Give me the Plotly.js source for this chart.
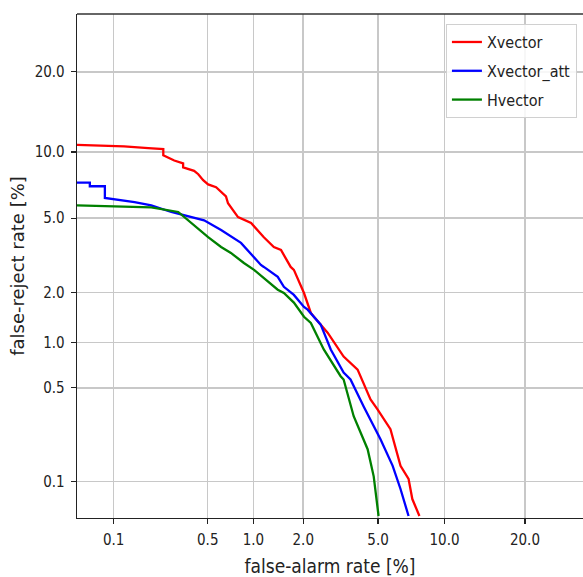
<!DOCTYPE html>
<html>
<head>
<meta charset="utf-8">
<script src="https://cdn.plot.ly/plotly-3.0.1.min.js"></script>
<style>html,body{margin:0;padding:0;background:#fff;}#chart{width:583px;height:577px;}</style>
</head>
<body>
<div id="chart"></div>
<script>
// Values in percent
const xvecFA = [0.05, 0.07, 0.121, 0.186, 0.241, 0.241, 0.262, 0.29, 0.336, 0.336, 0.402, 0.43, 0.465, 0.503, 0.57, 0.616, 0.664, 0.685, 0.797, 0.967, 1.163, 1.34, 1.48, 1.69, 1.765, 2.02, 2.21, 2.30, 2.74, 3.34, 3.95, 4.59, 4.97, 5.74, 6.4, 6.97, 7.25, 7.8];
const xvecFR = [10.7, 10.64, 10.55, 10.37, 10.28, 9.68, 9.49, 9.2, 8.95, 8.6, 8.3, 8.02, 7.54, 7.22, 7.01, 6.65, 6.36, 5.9, 5.06, 4.73, 4.01, 3.57, 3.44, 2.79, 2.69, 1.99, 1.52, 1.44, 1.15, 0.81, 0.664, 0.415, 0.353, 0.253, 0.133, 0.105, 0.072, 0.052];

const xattFA = [0.05, 0.064, 0.064, 0.085, 0.085, 0.146, 0.196, 0.276, 0.472, 0.616, 0.833, 1.01, 1.115, 1.163, 1.415, 1.54, 1.765, 2.02, 2.12, 2.51, 2.85, 3.34, 3.63, 4.24, 5.14, 5.88, 6.4, 6.97];
const xattFR = [7.36, 7.36, 7.08, 7.08, 6.25, 5.98, 5.77, 5.36, 4.88, 4.36, 3.75, 3.16, 2.86, 2.79, 2.46, 2.16, 1.94, 1.65, 1.59, 1.29, 0.90, 0.635, 0.57, 0.37, 0.213, 0.133, 0.087, 0.052];

const hvecFA = [0.05, 0.196, 0.31, 0.365, 0.503, 0.616, 0.716, 0.87, 1.01, 1.415, 1.54, 1.765, 2.02, 2.21, 2.61, 3.22, 3.34, 3.77, 4.44, 4.76, 4.9, 5.03];
const hvecFR = [5.77, 5.64, 5.36, 4.88, 4.01, 3.57, 3.32, 2.93, 2.69, 2.08, 1.99, 1.75, 1.44, 1.32, 0.90, 0.60, 0.57, 0.315, 0.179, 0.11, 0.07, 0.052];

const seriesNames = ["Xvector", "Xvector_att", "Hvector"];
const seriesColors = ["#ff0000", "#0000ff", "#008000"];

const tickVals = [0.1, 0.5, 1.0, 2.0, 5.0, 10.0, 20.0];
const tickText = ["0.1", "0.5", "1.0", "2.0", "5.0", "10.0", "20.0"];
const axisLimits = [0.05, 30];

// inverse normal CDF (Acklam)
function probit(p) {
  const a = [-3.969683028665376e+01, 2.209460984245205e+02, -2.759285104469687e+02, 1.383577518672690e+02, -3.066479806614716e+01, 2.506628277459239e+00];
  const b = [-5.447609879822406e+01, 1.615858368580409e+02, -1.556989798598866e+02, 6.680131188771972e+01, -1.328068155288572e+01];
  const c = [-7.784894002430293e-03, -3.223964580411365e-01, -2.400758277161838e+00, -2.549732539343734e+00, 4.374664141464968e+00, 2.938163982698783e+00];
  const d = [7.784695709041462e-03, 3.224671290700398e-01, 2.445134137142996e+00, 3.754408661907416e+00];
  const pl = 0.02425, ph = 1 - pl;
  let q, r;
  if (p < pl) {
    q = Math.sqrt(-2 * Math.log(p));
    return (((((c[0]*q+c[1])*q+c[2])*q+c[3])*q+c[4])*q+c[5]) / ((((d[0]*q+d[1])*q+d[2])*q+d[3])*q+1);
  } else if (p <= ph) {
    q = p - 0.5; r = q*q;
    return (((((a[0]*r+a[1])*r+a[2])*r+a[3])*r+a[4])*r+a[5])*q / (((((b[0]*r+b[1])*r+b[2])*r+b[3])*r+b[4])*r+1);
  } else {
    q = Math.sqrt(-2 * Math.log(1 - p));
    return -(((((c[0]*q+c[1])*q+c[2])*q+c[3])*q+c[4])*q+c[5]) / ((((d[0]*q+d[1])*q+d[2])*q+d[3])*q+1);
  }
}
const pr = v => probit(v / 100);

const xs = [xvecFA, xattFA, hvecFA];
const ys = [xvecFR, xattFR, hvecFR];
const traces = xs.map((x, i) => ({
  x: x.map(pr), y: ys[i].map(pr), type: 'scatter', mode: 'lines',
  name: seriesNames[i], legendgroup: 'g' + i,
  line: {color: seriesColors[i], width: 2.3},
  hoverinfo: 'skip'
}));

const cond = 'DejaVu Sans Condensed, DejaVu Sans, sans-serif';
const tickFont = {family: cond, size: 15, color: '#222'};
const axisBase = {
  range: axisLimits.map(pr), tickmode: 'array', tickvals: tickVals.map(pr), ticktext: tickText,
  showgrid: true, gridcolor: '#c8c8c8', gridwidth: 1.5, zeroline: false,
  showline: true, linecolor: '#222', linewidth: 1.3,
  ticks: 'outside', ticklen: 5, tickwidth: 1.2, tickcolor: '#222',
  tickfont: tickFont, fixedrange: true
};

const layout = {
  width: 583, height: 577,
  margin: {l: 77, r: 0, t: 14, b: 59},
  paper_bgcolor: '#fff', plot_bgcolor: '#fff',
  font: tickFont,
  showlegend: true,
  legend: {
    x: 0.988, y: 0.98, xanchor: 'right', yanchor: 'top',
    bgcolor: 'rgba(255,255,255,0.85)', bordercolor: '#d0d0d0', borderwidth: 1,
    font: {family: cond, size: 16, color: '#222'},
    traceorder: 'grouped', tracegroupgap: 5, itemwidth: 30
  },
  xaxis: Object.assign({}, axisBase, {
    ticklabelstandoff: 3,
    title: {text: 'false-alarm rate [%]', font: {family: cond, size: 19, color: '#222'}, standoff: 11},
    automargin: false
  }),
  yaxis: Object.assign({}, axisBase, {
    ticklabelstandoff: 3,
    title: {text: 'false-reject rate [%]', font: {family: 'DejaVu Sans, sans-serif', size: 18, color: '#222'}, standoff: 5},
    automargin: false
  }),
  shapes: [{type: 'line', xref: 'paper', yref: 'paper', x0: 0, x1: 1, y0: 1, y1: 1, line: {color: '#333', width: 1.3}}]
};

Plotly.newPlot('chart', traces, layout, {displayModeBar: false, staticPlot: true});
</script>
</body>
</html>
